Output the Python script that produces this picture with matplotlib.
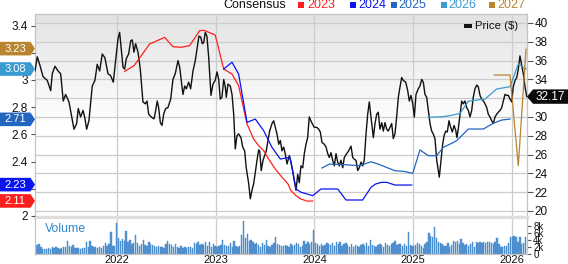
import numpy as np
import pandas as pd
import matplotlib
matplotlib.use('Agg')
import matplotlib.pyplot as plt
from matplotlib.patches import Polygon, Rectangle

plt.rcParams['font.family'] = ['Liberation Sans', 'DejaVu Sans']

# ---------------- data ----------------
price_t = [2021.170,2021.193,2021.220,2021.251,2021.294,2021.329,2021.345,2021.372,2021.403,2021.430,
           2021.456,2021.480,2021.514,2021.537,2021.565,2021.592,2021.608,2021.632,2021.656,2021.673,
           2021.693,2021.716,2021.750,2021.777,2021.800,2021.825,2021.851,2021.878,2021.909,2021.936,
           2021.963,2021.987,2022.010,2022.027,2022.044,2022.061,2022.078,2022.094,2022.118,2022.139,
           2022.155,2022.172,2022.189,2022.213,2022.236,2022.263,2022.287,2022.304,2022.321,2022.347,
           2022.375,2022.392,2022.408,2022.422,2022.439,2022.456,2022.473,2022.493,2022.516,2022.544,
           2022.567,2022.590,2022.618,2022.635,2022.651,2022.668,2022.686,2022.702,2022.726,2022.746,
           2022.770,2022.793,2022.813,2022.830,2022.848,2022.864,2022.878,2022.894,2022.911,2022.929,
           2022.952,2022.972,2022.995,2023.013,2023.030,2023.046,2023.063,2023.081,2023.097,2023.107,
           2023.124,2023.147,2023.165,2023.182,2023.198,2023.215,2023.232,2023.256,2023.273,2023.293,
           2023.309,2023.334,2023.350,2023.367,2023.384,2023.401,2023.418,2023.435,2023.445,2023.461,
           2023.479,2023.496,2023.512,2023.529,2023.546,2023.570,2023.587,2023.603,2023.620,2023.638,
           2023.654,2023.671,2023.688,2023.704,2023.722,2023.745,2023.762,2023.779,2023.796,2023.813,
           2023.830,2023.846,2023.863,2023.881,2023.897,2023.914,2023.931,2023.947,2023.972,2023.998,
           2024.022,2024.043,2024.059,2024.076,2024.099,2024.117,2024.134,2024.150,2024.167,2024.184,
           2024.201,2024.218,2024.235,2024.251,2024.268,2024.286,2024.302,2024.326,2024.346,2024.370,
           2024.387,2024.403,2024.420,2024.438,2024.454,2024.471,2024.488,2024.504,2024.522,2024.539,
           2024.555,2024.574,2024.596,2024.613,2024.630,2024.646,2024.663,2024.681,2024.697,2024.714,
           2024.731,2024.747,2024.765,2024.782,2024.798,2024.815,2024.832,2024.849,2024.866,2024.883,
           2024.899,2024.924,2024.944,2024.960,2024.977,2024.995,2025.011,2025.028,2025.051,2025.068,
           2025.086,2025.102,2025.119,2025.136,2025.153,2025.170,2025.187,2025.203,2025.220,2025.238,
           2025.254,2025.264,2025.281,2025.298,2025.312,2025.329,2025.345,2025.362,2025.379,2025.396,
           2025.413,2025.430,2025.443,2025.458,2025.474,2025.491,2025.507,2025.524,2025.541,2025.558,
           2025.575,2025.592,2025.608,2025.625,2025.643,2025.659,2025.676,2025.693,2025.710,2025.727,
           2025.744,2025.760,2025.777,2025.795,2025.811,2025.828,2025.845,2025.861,2025.879,2025.896,
           2025.912,2025.929,2025.946,2025.963,2025.980,2025.997,2026.013,2026.031,2026.048,2026.064,
           2026.081,2026.098,2026.115,2026.132,2026.149]
price_v = [34.9,36.4,35.5,34.3,33.9,32.8,34.6,35.4,34.9,34.6,
           31.7,32.4,31.6,30.3,28.7,29.3,30.9,30.0,30.7,30.0,
           28.7,29.6,33.3,33.9,35.6,34.9,36.7,36.3,34.6,34.4,
           33.7,36.0,38.3,39.0,37.1,35.3,35.1,36.2,36.7,38.1,
           38.2,36.9,37.8,36.9,35.1,31.6,31.4,31.7,30.3,30.0,
           29.8,30.7,31.7,31.0,29.4,29.1,30.3,30.9,31.0,31.9,
           34.0,34.6,36.0,35.3,33.9,32.4,33.3,33.0,33.7,33.0,
           34.9,36.0,37.4,38.6,38.5,37.8,37.9,39.0,38.6,36.3,
           32.3,33.5,33.9,34.8,34.0,31.9,32.1,34.0,33.2,32.1,
           33.5,33.3,32.4,30.3,26.6,28.0,28.2,27.8,26.8,26.4,
           24.6,22.9,21.3,22.2,22.9,24.1,25.4,26.5,26.4,24.3,
           25.4,25.9,26.4,27.5,28.5,29.3,29.6,28.9,28.2,27.1,
           27.5,26.4,26.8,26.1,25.0,25.9,25.2,24.3,23.2,22.2,
           23.9,23.0,24.8,24.6,26.1,27.1,27.8,30.0,29.4,28.9,
           28.9,28.7,28.4,27.3,27.1,26.8,26.1,25.7,26.2,25.4,
           24.8,26.1,25.2,24.8,25.4,24.6,25.7,26.1,26.4,26.9,
           25.7,25.5,25.4,24.3,24.6,25.2,24.8,25.4,28.2,30.3,
           31.6,29.8,27.8,29.3,30.3,30.5,28.7,29.4,28.5,29.4,
           28.7,28.5,28.9,29.3,27.7,28.2,30.0,32.1,33.2,34.2,
           33.9,33.7,32.8,31.7,32.3,31.4,30.0,32.4,33.0,33.3,
           34.0,33.7,32.4,32.1,30.7,29.3,28.5,28.2,27.7,25.4,
           24.3,23.6,25.4,27.1,28.0,28.5,28.4,29.6,28.9,28.4,
           29.1,28.6,27.8,28.9,30.3,31.7,31.4,31.7,31.0,30.7,
           30.0,30.7,32.1,33.0,33.4,33.2,32.3,31.9,31.7,31.4,
           31.0,30.3,30.0,29.6,29.3,30.0,30.3,30.5,30.7,31.0,
           31.7,32.4,32.3,32.3,31.9,31.6,33.2,33.9,34.2,35.1,
           36.5,35.5,34.6,33.2,32.17]

eps2023_t = [2022.078,2022.172,2022.331,2022.483,2022.567,2022.651,2022.736,2022.837,2022.881,2022.995,
             2023.081,2023.165,2023.232,2023.317,2023.384,2023.435,2023.486,2023.536,2023.603,2023.671,
             2023.732,2023.762,2023.813,2023.863,2023.914,2023.982]
eps2023_v = [3.063,3.104,3.264,3.313,3.244,3.240,3.252,3.362,3.365,3.330,
             3.080,3.043,2.957,2.676,2.565,2.516,2.480,2.418,2.345,2.284,
             2.235,2.185,2.149,2.124,2.112,2.112]

eps2024_t = [2023.081,2023.165,2023.232,2023.317,2023.401,2023.486,2023.570,2023.654,2023.752,2023.813,
             2023.863,2023.982,2024.066,2024.235,2024.319,2024.488,2024.572,2024.620,2024.681,2024.731,
             2024.815,2024.984]
eps2024_v = [3.080,3.130,3.043,2.688,2.712,2.626,2.504,2.418,2.431,2.198,
             2.174,2.149,2.198,2.198,2.117,2.117,2.210,2.235,2.247,2.247,
             2.227,2.227]

eps2025_t = [2024.076,2024.150,2024.319,2024.454,2024.572,2024.646,2024.815,2024.899,2024.995,2025.068,
             2025.153,2025.238,2025.304,2025.390,2025.440,2025.558,2025.710,2025.811,2025.896,2025.980]
eps2025_v = [2.352,2.381,2.376,2.369,2.398,2.381,2.332,2.328,2.313,2.485,
             2.443,2.443,2.504,2.534,2.553,2.639,2.639,2.681,2.705,2.712]

eps2026_t = [2025.153,2025.288,2025.372,2025.474,2025.558,2025.727,2025.845,2025.980,2026.064,2026.142]
eps2026_v = [2.725,2.729,2.737,2.754,2.843,2.860,2.933,2.950,3.117,3.080]

eps2027_t = [2025.821,2025.980,2026.064,2026.142]
eps2027_v = [3.036,3.036,2.369,3.227]

# weekly volume (thousands)
volume_k = [2.3,2.6,2.8,2.0,1.5,1.4,1.4,1.8,1.5,2.0,1.6,1.9,1.7,1.5,1.8,1.9,2.0,3.7,2.2,1.9,2.6,1.7,
            1.6,1.7,1.5,1.8,1.6,3.3,1.9,3.8,2.2,2.0,1.9,1.7,2.1,1.8,2.2,3.0,2.4,2.8,6.3,2.3,2.2,
            8.9,4.6,3.7,4.2,3.6,6.4,3.4,3.9,2.9,3.2,5.5,3.0,2.4,2.7,3.9,2.5,2.2,3.5,2.8,2.5,2.2,2.1,
            2.3,2.0,1.9,1.8,2.7,3.8,2.8,2.6,2.1,2.7,1.9,1.7,2.4,1.6,2.1,1.8,1.9,2.0,1.8,3.1,2.8,3.3,
            2.5,2.9,2.6,3.3,2.2,3.4,2.0,2.8,
            2.3,2.0,2.2,2.5,4.1,2.6,2.2,2.4,3.0,2.1,3.6,2.4,2.0,2.3,5.5,9.4,4.5,5.6,3.6,3.9,3.4,2.8,
            3.0,2.6,2.1,3.2,2.6,3.9,2.2,2.0,2.5,3.0,4.8,2.8,2.5,2.3,2.3,2.5,2.2,1.9,2.8,2.3,2.5,3.2,
            2.7,2.1,2.4,3.6,2.7,3.4,2.8,3.3,
            6.8,3.0,2.8,2.4,2.9,2.2,2.6,3.0,2.8,2.5,3.1,2.4,3.5,2.7,3.4,2.2,2.7,3.1,2.6,2.1,2.8,2.0,
            2.5,2.3,2.0,2.6,2.9,2.2,3.0,2.4,4.0,2.5,2.2,2.1,2.6,2.7,2.5,2.0,3.0,2.6,2.3,2.8,3.0,3.6,
            2.5,2.8,2.7,2.2,2.9,2.3,6.1,2.5,
            2.3,2.4,2.6,3.2,2.7,2.3,1.8,2.9,3.3,5.8,5.2,4.9,7.7,4.6,3.4,3.0,2.7,2.4,2.3,3.2,2.1,2.6,
            3.6,3.4,3.7,2.9,4.2,3.0,2.6,2.7,2.2,2.8,3.4,2.0,3.3,3.2,3.3,3.1,3.5,3.2,3.3,3.5,3.0,2.8,
            3.3,4.4,2.9,2.0,2.1,2.3,2.4,3.2,
            4.7,4.9,5.0,4.8,3.5,4.8,2.9,3.0,4.7]
volume_dates = pd.date_range('2021-03-05', periods=len(volume_k), freq='7D')
volume_t = volume_dates.year + (volume_dates.dayofyear - 1) / 365.25

year_ticks = [2022, 2023, 2024, 2025, 2026]
eps_ticks = [2.0, 2.2, 2.4, 2.6, 2.8, 3.0, 3.2, 3.4]
eps_labels = ['2', '', '2.4', '2.6', '2.8', '3', '', '3.4']
price_ticks = [20, 22, 24, 26, 28, 30, 32, 34, 36, 38, 40]
price_labels = ['20', '22', '24', '26', '28', '30', '', '34', '36', '38', '40']
vol_ticks = [0, 2, 4, 6, 8]
vol_labels = ['0', '2k', '4k', '6k', '8k']

series_names = ['2023', '2024', '2025', '2026', '2027']
series_colors = ['#ff1e1e', '#0a14f0', '#2266c0', '#3a9ad2', '#b8842e']
current_labels = ['2.11', '2.23', '2.71', '3.08', '3.23']
current_values = [2.11, 2.23, 2.71, 3.08, 3.23]
last_price = 32.17

# ---------------- layout ----------------
W, H = 568, 264
fig = plt.figure(figsize=(W / 100, H / 100), dpi=100)
L, R = 35, 527
T, B = 14, 217
VT, VB = 219, 254

def fr(x0, y0, x1, y1):
    return [x0 / W, 1 - y1 / H, (x1 - x0) / W, (y1 - y0) / H]

xlim = (2021.170, 2026.152)
eps_lim = (1.992, 3.4846)
price_lim = (19.36, 40.957)
grid_c = '#cccccc'
frame_c = '#c4c4c4'

axp = fig.add_axes(fr(L, T, R, B))
axe = axp.twinx()

# gradient background
grad = np.linspace(0, 1, 200)
shade = np.clip((grad - 0.45) / 0.55, 0, 1)
col = 1 - 0.11 * shade
img = np.dstack([col, col, col]).reshape(200, 1, 3)
axp.imshow(img, extent=[0, 1, 0, 1], transform=axp.transAxes, origin='lower',
           aspect='auto', zorder=0, interpolation='bilinear')
axp.set_xlim(*xlim)
axp.set_ylim(*price_lim)
axp.yaxis.tick_right()
axp.set_yticks(price_ticks)
axp.set_yticklabels(price_labels)
axp.set_xticks(year_ticks)
axp.tick_params(axis='x', length=0, labelbottom=False)
axp.tick_params(axis='y', which='both', left=False, labelleft=False, right=True, labelright=True,
                length=4, width=0.8, color='#555555', labelsize=8.5, pad=1.5, labelcolor='#111111')
axp.grid(True, color=grid_c, linewidth=0.9)
axp.set_axisbelow(True)
for s in ['left', 'right', 'top']:
    axp.spines[s].set_color(frame_c)
    axp.spines[s].set_linewidth(0.9)
axp.spines['bottom'].set_color('#dedede')
axp.spines['bottom'].set_linewidth(2.5)
axp.plot(price_t, price_v, color='#111111', linewidth=1.0, zorder=3)

axe.set_zorder(axp.get_zorder() + 1)
axe.patch.set_visible(False)
axe.set_xlim(*xlim)
axe.set_ylim(*eps_lim)
axe.set_yticks(eps_ticks)
axe.set_yticklabels(eps_labels)
axe.tick_params(axis='y', which='both', left=True, labelleft=True, right=False, labelright=False,
                length=3, width=0.8, color='#555555', labelsize=8.5, pad=2, labelcolor='#111111')
for s in axe.spines.values():
    s.set_visible(False)
eps_t = [eps2023_t, eps2024_t, eps2025_t, eps2026_t, eps2027_t]
eps_v = [eps2023_v, eps2024_v, eps2025_v, eps2026_v, eps2027_v]
for t, v, c in zip(eps_t, eps_v, series_colors):
    axe.plot(t, v, color=c, linewidth=0.9, zorder=2)
# the faded final stretch of the 2023 estimate
axe.plot(eps2023_t[-2:], eps2023_v[-2:], color='#ff7a7a', linewidth=1.6, zorder=2,
         solid_capstyle='butt')

# price legend inside plot
fig.patches.append(Rectangle((464 / W, 1 - 27.5 / H), 8 / W, 4 / H, transform=fig.transFigure,
                             facecolor='#111111', edgecolor='none'))
fig.text(475 / W, 1 - 26 / H, 'Price ($)', fontsize=8.2, va='center', ha='left', color='#111111')

# volume panel
axv = fig.add_axes(fr(L, VT, R, VB))
axv.bar(volume_t, volume_k, width=5.0 / 365.25, color='#5597d4', edgecolor='#3f83c6',
        linewidth=0.3, align='center', zorder=2)
axv.set_xlim(*xlim)
axv.set_ylim(0, 9.9)
axv.set_xticks(year_ticks)
axv.set_xticklabels([str(y) for y in year_ticks])
axv.tick_params(axis='x', length=0, labelsize=8, pad=0.5, labelcolor='#111111')
axv.yaxis.tick_right()
axv.set_yticks(vol_ticks)
axv.set_yticklabels(vol_labels)
axv.tick_params(axis='y', length=3, width=0.8, color='#555555', labelsize=7, pad=1.5,
                labelcolor='#111111')
axv.grid(True, axis='x', color=grid_c, linewidth=0.9)
axv.set_axisbelow(True)
for s in axv.spines.values():
    s.set_color(frame_c)
    s.set_linewidth(0.9)
axv.spines['top'].set_visible(False)
fig.text(45 / W, 1 - 229 / H, 'Volume', fontsize=8.8, color='#2f86cc', va='center', ha='left')

# legend at top
fig.text(223 / W, 1 - 5.5 / H, 'Consensus', fontsize=9, color='#111111', va='center', ha='left')
leg_sq_x = [298, 350, 391, 441, 489]
leg_tx_x = [307, 358, 398, 448, 497]
for sx, tx, name, c in zip(leg_sq_x, leg_tx_x, series_names, series_colors):
    fig.patches.append(Rectangle((sx / W, 1 - 8 / H), 5.5 / W, 6 / H, transform=fig.transFigure,
                                 facecolor=c, edgecolor='none'))
    fig.text(tx / W, 1 - 5.5 / H, name, fontsize=9, color=c, va='center', ha='left')

# left value tags
lab = fig.add_axes(fr(0, T, L, B), zorder=20)
lab.set_xlim(0, L)
lab.set_ylim(*eps_lim)
lab.axis('off')
hh = 6.8 * (eps_lim[1] - eps_lim[0]) / (B - T)
for v, txt, c in zip(current_values, current_labels, series_colors):
    poly = Polygon([(0, v - hh), (30.5, v - hh), (35, v), (30.5, v + hh), (0, v + hh)],
                   closed=True, facecolor=c, edgecolor='none', clip_on=False)
    lab.add_patch(poly)
    lab.text(15, v, txt, color='white', fontsize=8, ha='center', va='center')

# right price tag
labr = fig.add_axes(fr(R, T, W, B), zorder=20)
labr.set_xlim(0, W - R)
labr.set_ylim(*price_lim)
labr.axis('off')
ph = 7.2 * (price_lim[1] - price_lim[0]) / (B - T)
poly = Polygon([(0, last_price), (6, last_price + ph), (W - R, last_price + ph),
                (W - R, last_price - ph), (6, last_price - ph)], closed=True,
               facecolor='#0a0a0a', edgecolor='none', clip_on=False)
labr.add_patch(poly)
labr.text(23.5, last_price, f'{last_price:.2f}', color='white', fontsize=8.5,
          ha='center', va='center')

fig.savefig('out.png', dpi=100)
